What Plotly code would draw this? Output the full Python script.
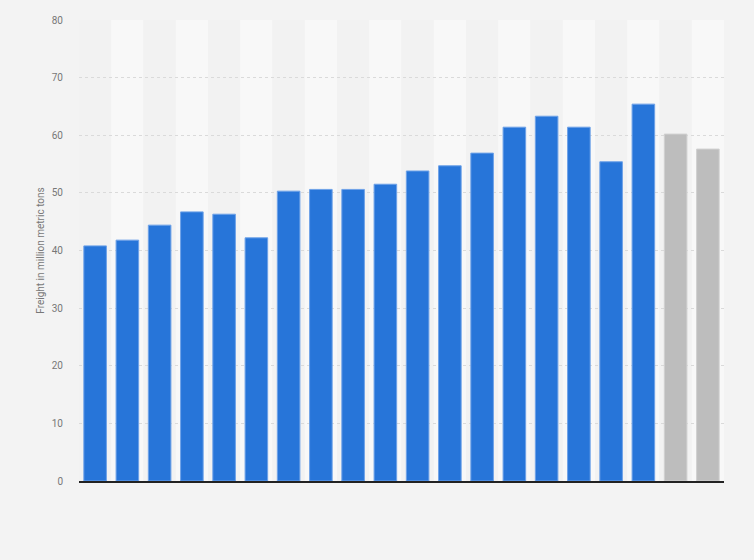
import plotly.graph_objects as go

# yearly freight volumes, last two bars shown in grey
years = [str(y) for y in range(2000, 2020)]
freight = [40.8, 41.8, 44.4, 46.7, 46.3, 42.2, 50.3, 50.6, 50.6, 51.5,
           53.8, 54.7, 56.9, 61.4, 63.3, 61.4, 55.4, 65.4, 60.2, 57.6]
bar_colors = ["#2775d9"] * 18 + ["#bdbdbd"] * 2
edge_colors = ["#6ea2e8"] * 18 + ["#d0d0d0"] * 2
y_ticks = [0, 10, 20, 30, 40, 50, 60, 70, 80]

fig = go.Figure()

fig.add_trace(go.Bar(
    x=years, y=freight,
    marker=dict(color=bar_colors, line=dict(color=edge_colors, width=1)),
    width=0.7,
    hoverinfo="x+y",
))

# alternating column bands behind the bars
for i, yr in enumerate(years):
    fig.add_shape(type="rect", xref="x", yref="paper",
                  x0=i - 0.5, x1=i + 0.5, y0=0, y1=1,
                  fillcolor="#f2f2f2" if i % 2 == 0 else "#f8f8f8",
                  line_width=0, layer="below")

fig.update_layout(
    width=754, height=560,
    paper_bgcolor="#f3f3f3",
    plot_bgcolor="#f3f3f3",
    margin=dict(l=79, r=30, t=20, b=79),
    showlegend=False,
    font=dict(family="Roboto, Arial, sans-serif", color="#666666"),
)

fig.update_xaxes(
    showticklabels=False, showgrid=False,
    showline=True, linecolor="#222222", linewidth=1.5,
    ticks="", range=[-0.5, 19.5],
)

fig.update_yaxes(
    range=[0, 80], tickvals=y_ticks,
    showgrid=True, gridcolor="#dadada", griddash="dot", gridwidth=1,
    zeroline=False,
    tickfont=dict(size=10, color="#777777"),
    ticks="outside", ticklen=13, tickcolor="rgba(0,0,0,0)",
    title=dict(text="Freight in million metric tons",
               font=dict(size=10, color="#777777"), standoff=5),
)

# drop the browser's default body margin so the chart fills the window
fig.write_html("out.html", config={"displayModeBar": False},
               post_script="document.body.style.margin='0';")
